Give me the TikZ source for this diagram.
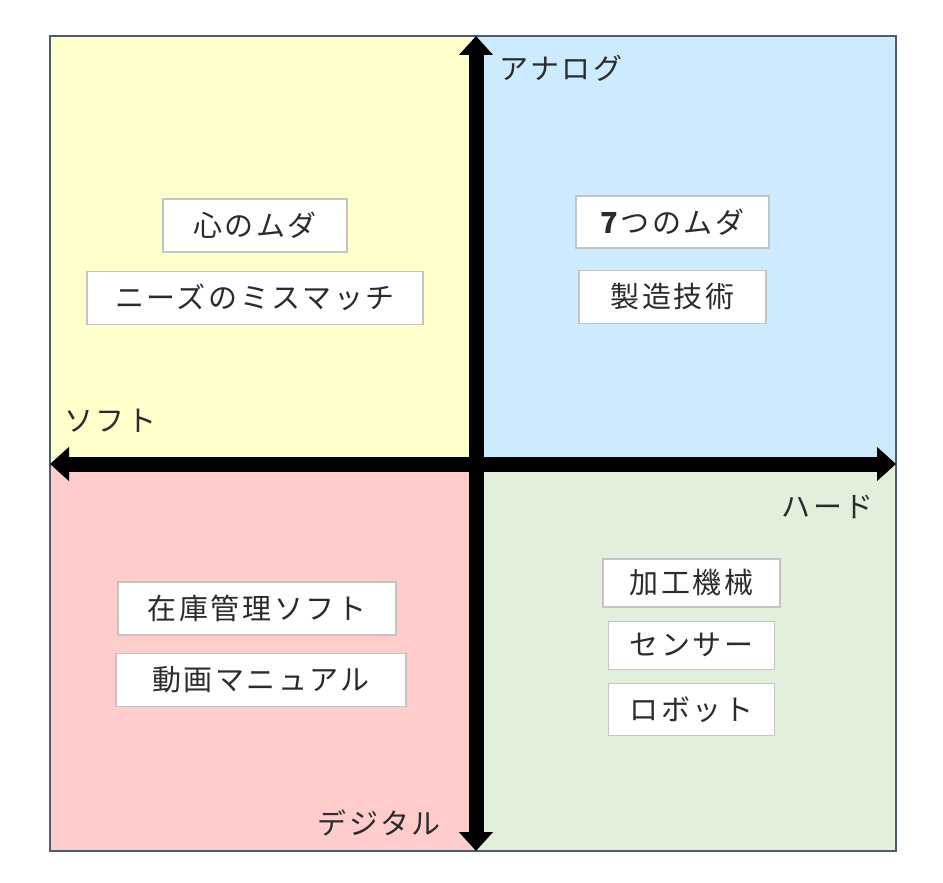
\documentclass[tikz,border=0pt]{standalone}
\usepackage{fontspec}
\setmainfont{Noto Sans CJK JP}[LetterSpace=9]
\usetikzlibrary{positioning, arrows.meta}

\definecolor{softyellow}{HTML}{FFFFCC}
\definecolor{analogblue}{HTML}{CCEBFF}
\definecolor{digitalpink}{HTML}{FFCCCC}
\definecolor{hardgreen}{HTML}{E2EFDA}
\definecolor{framegray}{HTML}{4F5B6E}
\definecolor{boxgray}{HTML}{C4C4C4}
\definecolor{textgray}{HTML}{2B2B2B}

\begin{document}
\begin{tikzpicture}[x=1pt, y=-1pt,
    itembox/.style={draw=boxgray, line width=1.2pt, fill=white, minimum height=53pt, inner sep=0pt, text=textgray, font=\fontsize{29}{32}\selectfont},
    axislabel/.style={inner sep=0pt, text=textgray, font=\fontsize{29}{32}\selectfont},
    axisarrow/.style={line width=15pt, {Triangle[width=33pt,length=19pt]}-{Triangle[width=33pt,length=19pt]}}
]
\useasboundingbox (0,0) rectangle (943,883);

% Quadrants
\fill[softyellow] (50,36) rectangle (476,464);
\fill[analogblue] (476,36) rectangle (896,464);
\fill[digitalpink] (50,464) rectangle (476,851);
\fill[hardgreen] (476,464) rectangle (896,851);
\draw[framegray, line width=1.2pt] (50,36) rectangle (896,851);

% Axis ends
\coordinate (analog) at (476,36);
\coordinate (digital) at (476,851);
\coordinate (soft) at (50,464);
\coordinate (hard) at (896,464);

% Axes
\draw[axisarrow] (digital) -- (analog);
\draw[axisarrow] (soft) -- (hard);

% Axis labels
\node[axislabel, anchor=west] (analoglabel) at (499,68) {アナログ};
\node[axislabel, anchor=west] (softlabel) at (64,421) {ソフト};
\node[axislabel, anchor=east] (hardlabel) at (874,507) {ハード};
\node[axislabel, anchor=east] (digitallabel) at (441,823) {デジタル};

% Nodes
\node[itembox, minimum width=184pt] (kokoro) at (255,225.5) {心のムダ};
\node[itembox, minimum width=336pt, below=18pt of kokoro] (needs) {ニーズのミスマッチ};

\node[itembox, minimum width=193pt, minimum height=52pt] (seven) at (672.5,222) {\textbf{7}つのムダ};
\node[itembox, minimum width=187pt, below=21pt of seven] (gijutsu) {製造技術};

\node[itembox, minimum width=278pt] (zaiko) at (257,608.5) {在庫管理ソフト};
\node[itembox, minimum width=290pt, below=17pt of zaiko, xshift=4pt] (douga) {動画マニュアル};

\node[itembox, minimum width=177pt, minimum height=48pt] (kakou) at (691.5,583) {加工機械};
\node[itembox, minimum width=166pt, minimum height=48pt, below=13pt of kakou] (sensor) {センサー};
\node[itembox, minimum width=166pt, minimum height=52pt, below=13pt of sensor] (robot) {ロボット};

\end{tikzpicture}
\end{document}
